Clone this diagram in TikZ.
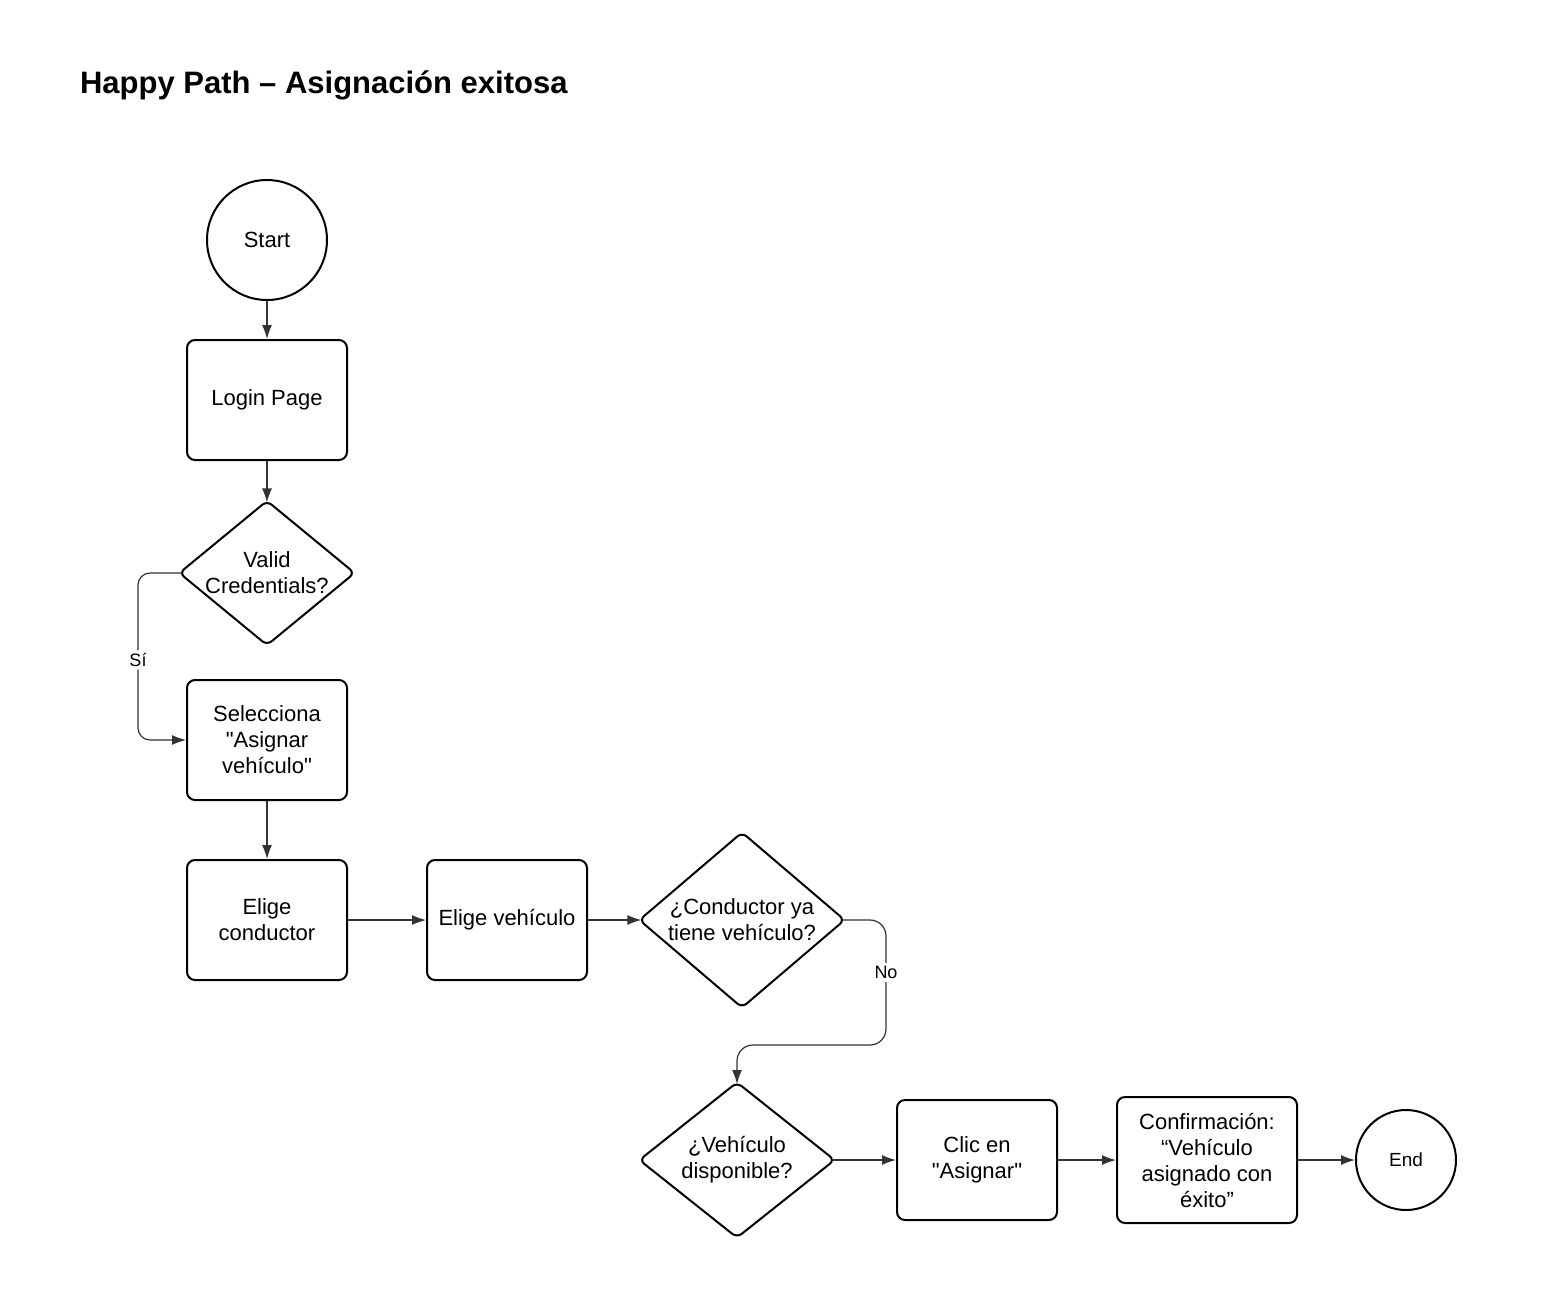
\documentclass[tikz,border=0pt]{standalone}
\usepackage{fontspec}
\setmainfont{Liberation Sans}
\usetikzlibrary{shapes.geometric,arrows.meta}

\tikzstyle{terminal}=[draw=black, line width=1pt, circle, minimum size=60pt, inner sep=0pt, font=\fontsize{11}{13}\selectfont]
\tikzstyle{proceso}=[draw=black, line width=1pt, rectangle, rounded corners=4pt, minimum width=80pt, minimum height=60pt, align=center, inner sep=2pt, font=\fontsize{11}{13}\selectfont]
\tikzstyle{decision}=[draw=black, line width=1pt, diamond, rounded corners=3pt, aspect=1.2, inner sep=0pt, align=center, font=\fontsize{11}{13}\selectfont]
\tikzstyle{flecha}=[draw=black!80, line width=0.6pt, -{Latex[length=7pt,width=5pt]}]
\tikzstyle{etiqueta}=[fill=white, inner sep=1.5pt, font=\fontsize{9}{10}\selectfont]

\begin{document}
\begin{tikzpicture}[x=0.5pt, y=-0.5pt]

\useasboundingbox (0,0) rectangle (1555,1314);

\node[anchor=west, font=\fontsize{15.5}{18}\selectfont\bfseries] (titulo) at (73,85) {Happy Path -- Asignación exitosa};

% columna izquierda
\node[terminal] (start) at (267,240) {Start};
\node[proceso] (login) at (267,400) {Login Page};
\node[decision, minimum width=88pt, minimum height=72pt] (valid) at (267,573) {Valid\\Credentials?};
\node[proceso] (selec) at (267,740) {Selecciona\\\textquotedbl Asignar\\vehículo\textquotedbl};
\node[proceso] (conductor) at (267,920) {Elige\\conductor};

% fila media
\node[proceso] (vehiculo) at (507,920) {Elige vehículo};
\node[decision, minimum width=103pt, minimum height=88pt] (tiene) at (742,920) {¿Conductor ya\\tiene vehículo?};

% fila inferior
\node[decision, minimum width=98pt, minimum height=78pt] (disp) at (737,1160) {¿Vehículo\\disponible?};
\node[proceso] (clic) at (977,1160) {Clic en\\\textquotedbl Asignar\textquotedbl};
\node[proceso, minimum width=90pt, minimum height=63pt] (confirma) at (1207,1160) {Confirmación:\\“Vehículo\\asignado con\\éxito”};
\node[terminal, minimum size=50pt] (end) at (1406,1160) {\fontsize{9.5}{11}\selectfont End};

\draw[flecha] (start) -- (login);
\draw[flecha, shorten >=-1.5pt] (login) -- (valid);
\draw[flecha, shorten <=-1.7pt, rounded corners=6pt] (valid.west) -- ++(-40,0) |- (selec.west) node[etiqueta, pos=0.26] {Sí};
\draw[flecha] (selec) -- (conductor);
\draw[flecha] (conductor) -- (vehiculo);
\draw[flecha, shorten >=-1.7pt] (vehiculo) -- (tiene);
\draw[flecha, shorten <=-1.7pt, shorten >=-1.5pt, rounded corners=8pt] (tiene.east) -- ++(40,0) -- node[etiqueta, pos=0.42] {No} ++(0,125) -| (disp.north);
\draw[flecha, shorten <=-1.7pt] (disp) -- (clic);
\draw[flecha] (clic) -- (confirma);
\draw[flecha] (confirma) -- (end);

\end{tikzpicture}
\end{document}
